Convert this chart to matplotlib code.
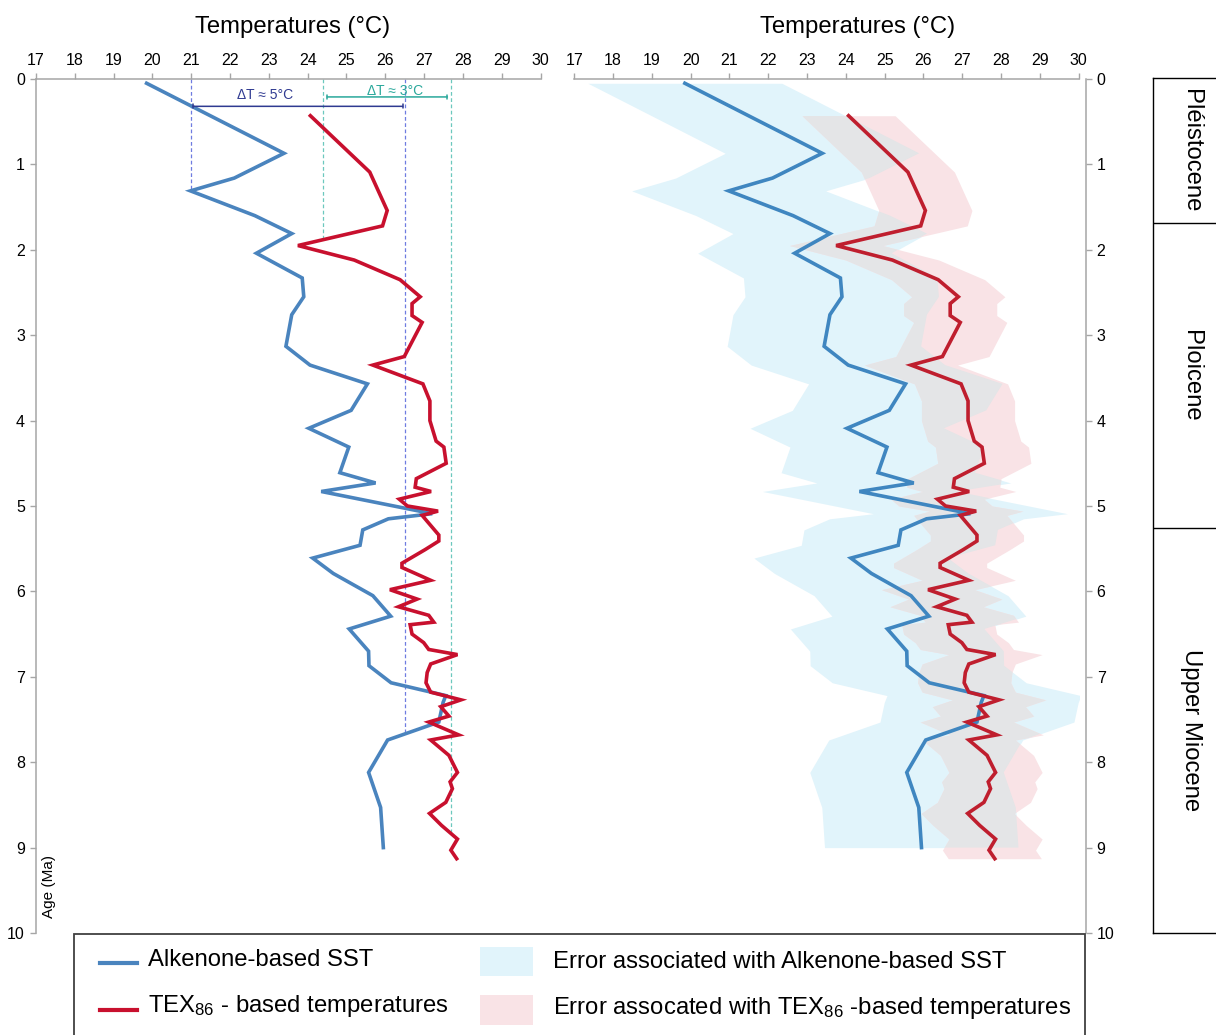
import matplotlib
matplotlib.use("Agg")
import matplotlib.pyplot as plt
from matplotlib.lines import Line2D
from matplotlib.patches import Rectangle
import numpy as np

plt.rcParams['font.family'] = ['Liberation Sans', 'DejaVu Sans']
plt.rcParams['mathtext.fontset'] = 'custom'
plt.rcParams['mathtext.rm'] = 'Liberation Sans'
plt.rcParams['mathtext.default'] = 'rm'

# alkenone-based SST (age in Ma, temperature in degC)
alk_age = [0.05, 0.87, 1.16, 1.31, 1.60, 1.81, 2.04, 2.33, 2.55, 2.76, 3.13, 3.35, 3.57,
           3.88, 4.09, 4.31, 4.61, 4.73, 4.83, 5.09, 5.15, 5.28, 5.46, 5.61, 5.79, 6.05,
           6.29, 6.44, 6.70, 6.87, 7.07, 7.22, 7.30, 7.53, 7.74, 8.12, 8.53, 9.00]
alk_t = [19.85, 23.39, 22.11, 20.98, 22.64, 23.59, 22.68, 23.86, 23.90, 23.59, 23.44, 24.06, 25.54,
         25.12, 24.03, 25.06, 24.83, 25.75, 24.35, 27.21, 26.08, 25.42, 25.35, 24.13, 24.66, 25.68,
         26.14, 25.07, 25.57, 25.58, 26.15, 27.56, 27.49, 27.38, 26.06, 25.57, 25.88, 25.95]
alk_err = 2.5

# TEX86-based temperatures
tex_age = [0.43, 1.09, 1.54, 1.72, 1.95, 2.12, 2.35, 2.55, 2.63, 2.77, 2.85, 3.25, 3.35, 3.57,
           3.77, 4.00, 4.24, 4.31, 4.50, 4.68, 4.78, 4.83, 4.92, 5.00, 5.06, 5.11, 5.34, 5.41,
           5.51, 5.67, 5.72, 5.87, 5.98, 6.09, 6.18, 6.28, 6.36, 6.39, 6.50, 6.60, 6.68, 6.74,
           6.85, 6.95, 7.07, 7.18, 7.27, 7.35, 7.46, 7.53, 7.68, 7.74, 7.92, 8.12, 8.23, 8.31,
           8.47, 8.60, 8.74, 8.90, 9.03, 9.13]
tex_t = [24.07, 25.60, 26.05, 25.93, 23.75, 25.20, 26.38, 26.90, 26.69, 26.69, 26.95, 26.49, 25.68, 26.97,
         27.15, 27.15, 27.31, 27.51, 27.57, 26.80, 26.77, 27.18, 26.36, 26.57, 27.36, 26.95, 27.38, 27.38,
         27.03, 26.43, 26.43, 27.17, 26.12, 26.82, 26.34, 27.12, 27.25, 26.64, 26.69, 26.99, 27.12, 27.86,
         27.17, 27.08, 27.05, 27.17, 27.95, 27.43, 27.64, 27.12, 27.89, 27.17, 27.64, 27.86, 27.67, 27.73,
         27.56, 27.14, 27.45, 27.86, 27.69, 27.84]
tex_err = 1.2

# guide lines and delta-T annotations in the left panel
alk_guides = [21.0, 26.5]
alk_guide_end = [1.31, 7.67]
tex_guides = [24.4, 27.7]
tex_guide_end = [1.89, 8.85]
dt_alk = (21.05, 26.45, 0.32, 22.9, 0.19, 'ΔT ≈ 5°C')
dt_tex = (24.5, 27.6, 0.21, 26.25, 0.14, 'ΔT ≈ 3°C')

epochs = ['Pléistocene', 'Ploicene', 'Upper Miocene']
epoch_bounds = [0, 1.70, 5.26, 10]

BLUE = '#4a84be'
RED = '#c8102e'
NAVY = '#2f3a91'
TEAL = '#2aa89b'
AXC = '#a6a6a6'
FS = 17.2

W, H = 1216, 1035
fig = plt.figure(figsize=(W / 100, H / 100), dpi=100)


def box(x0, x1, ytop, ybot):
    return [x0 / W, 1 - ybot / H, (x1 - x0) / W, (ybot - ytop) / H]


def style(ax, side):
    ax.set_xlim(17, 30)
    ax.set_ylim(10, 0)
    ax.set_xticks(range(17, 31))
    ax.set_yticks(range(0, 11))
    ax.xaxis.tick_top()
    for s in ['bottom', 'left', 'right', 'top']:
        ax.spines[s].set_color(AXC)
        ax.spines[s].set_linewidth(1.1)
    ax.spines['bottom'].set_visible(False)
    if side == 'left':
        ax.spines['right'].set_visible(False)
    else:
        ax.spines['left'].set_visible(False)
        ax.yaxis.tick_right()
        ax.spines['right'].set_position(('outward', 5))
    ax.tick_params(colors=AXC, labelcolor='black', labelsize=11.5, length=4, width=1, pad=4)
    ax.patch.set_alpha(0)


ax1 = fig.add_axes(box(36, 540.5, 79, 933))
ax2 = fig.add_axes(box(574.3, 1078.6, 79, 933))
style(ax1, 'left')
style(ax2, 'right')

# left panel
ax1.plot(alk_t, alk_age, color=BLUE, lw=2.6, solid_joinstyle='miter', zorder=3)
ax1.plot(tex_t, tex_age, color=RED, lw=2.6, solid_joinstyle='miter', zorder=3)
ax1.vlines(alk_guides, 0, alk_guide_end, colors='#6f7ce0', linestyles=(0, (3, 2)), lw=0.9)
ax1.vlines(tex_guides, 0, tex_guide_end, colors='#6cc8be', linestyles=(0, (3, 2)), lw=0.9)
for (xa, xb, yl, xt, yt, lab), col in [(dt_alk, NAVY), (dt_tex, TEAL)]:
    ax1.annotate('', xy=(xa, yl), xytext=(xb, yl),
                 arrowprops=dict(arrowstyle='|-|,widthA=0.15,widthB=0.15', color=col, lw=1.1,
                                 shrinkA=0, shrinkB=0))
    ax1.text(xt, yt, lab, color=col, fontsize=10, ha='center', va='center')
ax1.text(17.34, 9.45, 'Age (Ma)', rotation=90, ha='center', va='center', fontsize=11)

# right panel with error envelopes
a_t = np.array(alk_t)
t_t = np.array(tex_t)
blue_band = ax2.fill_betweenx(alk_age, a_t - alk_err, a_t + alk_err, color='#e1f4fb', lw=0, zorder=1)
ax2.fill_betweenx(tex_age, t_t - tex_err, t_t + tex_err, color='#f9e3e6', lw=0, zorder=1)
overlap = ax2.fill_betweenx(tex_age, t_t - tex_err, t_t + tex_err, color='#e4e5e7', lw=0, zorder=1.5)
overlap.set_clip_path(blue_band.get_paths()[0], ax2.transData)
ax2.plot(alk_t, alk_age, color='#3f86c0', lw=2.6, solid_joinstyle='miter', zorder=3)
ax2.plot(tex_t, tex_age, color='#bf1e2e', lw=2.6, solid_joinstyle='miter', zorder=3)

fig.text(293 / W, 1 - 27 / H, 'Temperatures (°C)', ha='center', va='center', fontsize=FS)
fig.text(858 / W, 1 - 27 / H, 'Temperatures (°C)', ha='center', va='center', fontsize=FS)

# epoch column
ax3 = fig.add_axes(box(1152.7, 1240, 78, 933))
ax3.set_ylim(10, 0)
ax3.set_xlim(0, 1)
ax3.set_xticks([])
ax3.set_yticks([])
for s in ax3.spines.values():
    s.set_color('black')
    s.set_linewidth(1.0)
for b in epoch_bounds[1:-1]:
    ax3.axhline(b, color='black', lw=1.0)
for name, y0, y1 in zip(epochs, epoch_bounds[:-1], epoch_bounds[1:]):
    ax3.text(0.44, (y0 + y1) / 2, name, rotation=-90, ha='center', va='center', fontsize=FS)


# legend box
def fx(px):
    return px / W


def fy(py):
    return 1 - py / H


fig.add_artist(Rectangle((fx(74), fy(1060)), fx(1085) - fx(74), fy(934) - fy(1060),
                         transform=fig.transFigure, fill=False, edgecolor='#404040', lw=1.3))
fig.add_artist(Line2D([fx(100), fx(137)], [fy(963), fy(963)], transform=fig.transFigure,
                      color=BLUE, lw=3))
fig.add_artist(Line2D([fx(100), fx(137)], [fy(1010), fy(1010)], transform=fig.transFigure,
                      color=RED, lw=3))
fig.add_artist(Rectangle((fx(480), fy(976)), fx(533) - fx(480), fy(947) - fy(976),
                         transform=fig.transFigure, color='#e1f4fb', lw=0))
fig.add_artist(Rectangle((fx(480), fy(1025)), fx(533) - fx(480), fy(995) - fy(1025),
                         transform=fig.transFigure, color='#f9e3e6', lw=0))
fig.text(fx(148), fy(960), 'Alkenone-based SST', ha='left', va='center', fontsize=FS)
fig.text(fx(148), fy(1006), 'TEX$_{86}$ - based temperatures', ha='left', va='center', fontsize=FS)
fig.text(fx(553), fy(962), 'Error associated with Alkenone-based SST', ha='left', va='center',
         fontsize=FS)
fig.text(fx(553), fy(1008), 'Error assocated with TEX$_{86}$ -based temperatures', ha='left',
         va='center', fontsize=FS)

fig.savefig('out.png', dpi=100)
